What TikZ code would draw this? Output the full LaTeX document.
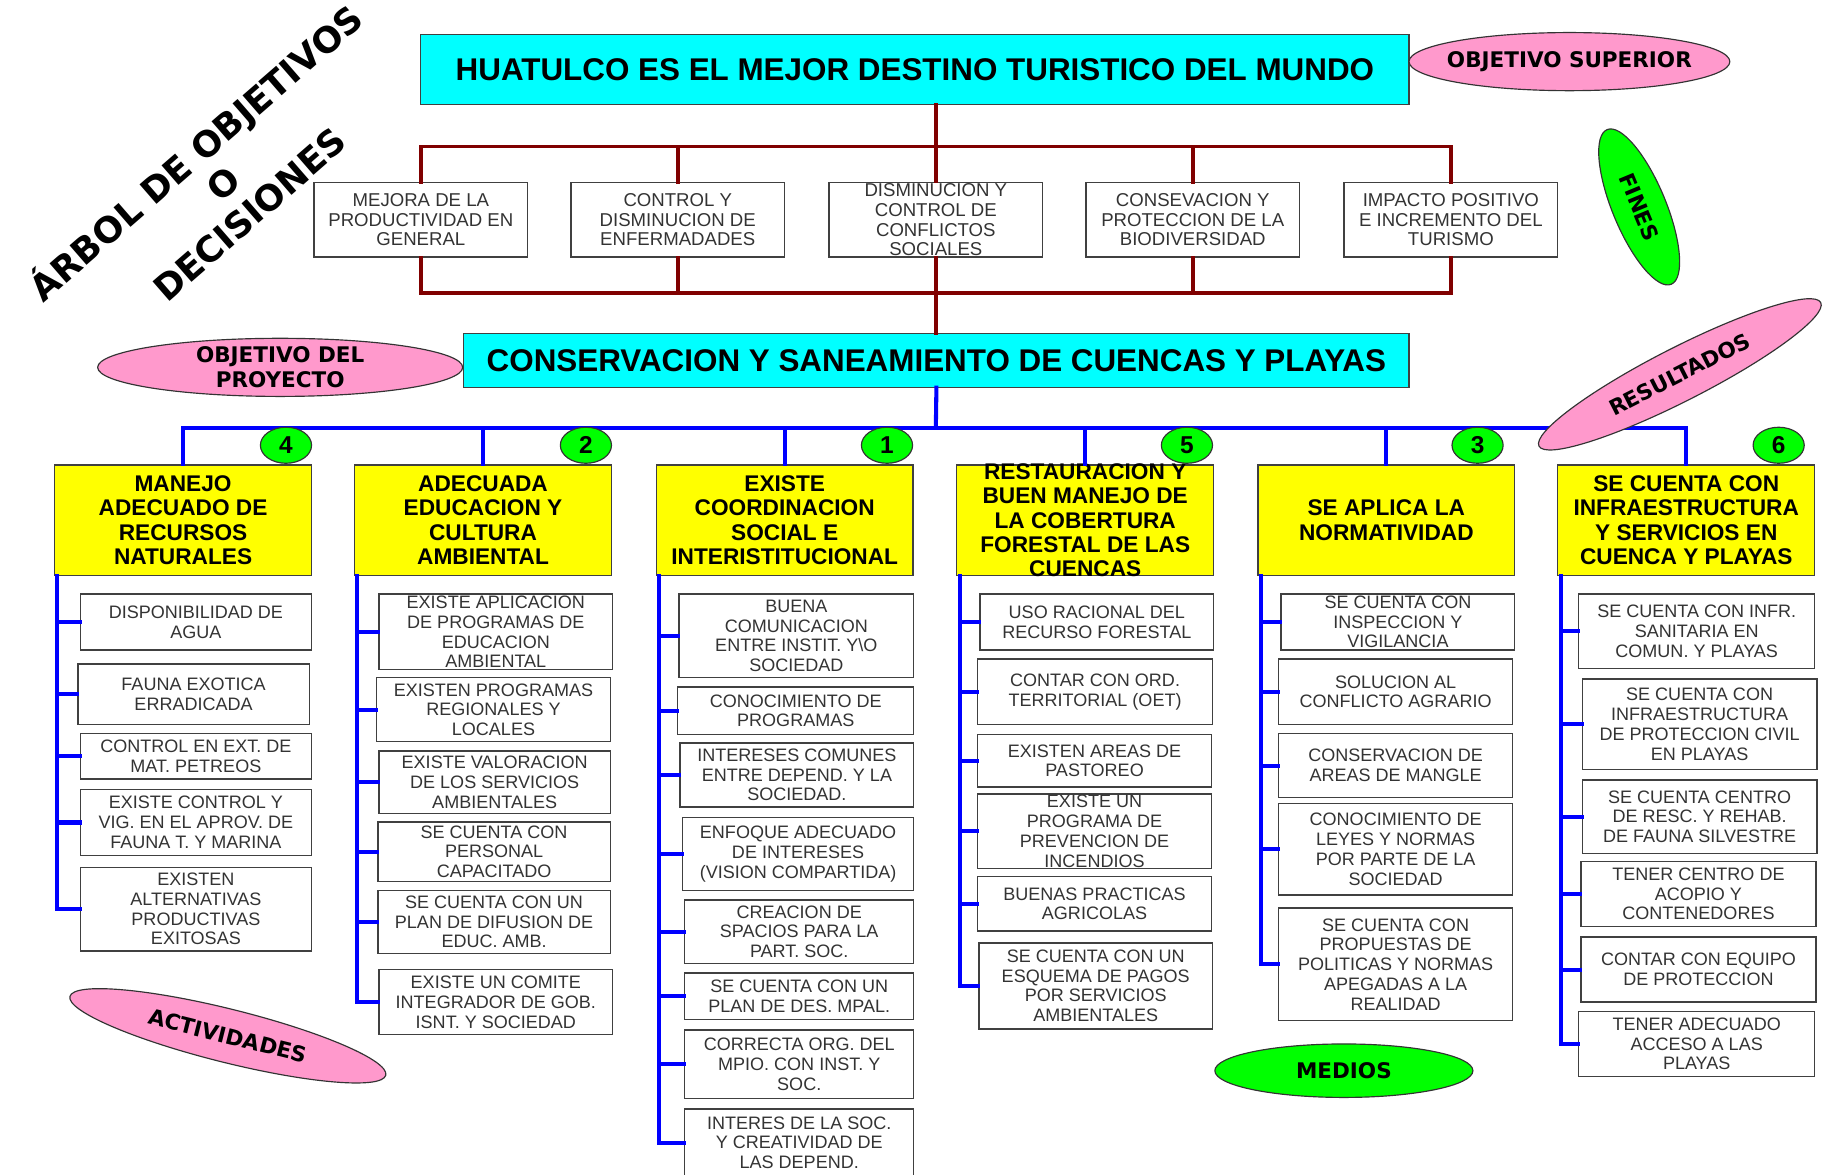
\documentclass[tikz,border=0pt]{standalone}
\usepackage{fontspec}
\setmainfont{Liberation Sans}
\newfontfamily\heavyfont{DejaVu Sans}
\usepackage{tikz}
\usetikzlibrary{positioning,shapes.geometric,calc}

\definecolor{skyfill}{HTML}{00FFFF}
\definecolor{pinkfill}{HTML}{FF99CC}
\definecolor{limefill}{HTML}{00FF00}
\definecolor{lemonfill}{HTML}{FFFF00}
\definecolor{finred}{HTML}{800000}
\definecolor{medblue}{HTML}{0000FF}
\definecolor{boxgray}{HTML}{404040}

\tikzset{
  mainbox/.style={draw=boxgray, line width=1pt, fill=skyfill, inner sep=0pt,
    font=\bfseries\fontsize{27}{30}\selectfont},
  finbox/.style={draw=boxgray, line width=1.2pt, fill=white, align=center,
    minimum width=184, minimum height=64, inner sep=1pt,
    text=black!80, font=\fontsize{16}{17}\selectfont},
  resbox/.style={draw=boxgray, line width=1.2pt, fill=lemonfill, align=center,
    minimum width=221, minimum height=95, inner sep=1pt,
    font=\bfseries\fontsize{19.5}{21}\selectfont},
  actbox/.style={draw=boxgray, line width=1.2pt, fill=white, align=center,
    inner sep=1pt, text=black!80, font=\fontsize{15.5}{17}\selectfont},
  tag/.style={ellipse, draw=black!80, line width=1pt, inner sep=-30pt,
    font=\heavyfont\bfseries\fontsize{18.5}{21}\selectfont},
  numtag/.style={ellipse, draw=black!80, line width=1pt, fill=limefill,
    inner sep=0pt, minimum width=44, minimum height=31,
    font=\bfseries\fontsize{21}{21}\selectfont},
  redline/.style={finred, line width=3pt, line cap=rect},
  blueline/.style={medblue, line width=3.5pt, line cap=rect},
}

\begin{document}
\begin{tikzpicture}[x=1pt,y=-1pt]
  \useasboundingbox (0,0) rectangle (1569,1010);

  % titulo
  \node[rotate=41, align=center,
    font=\heavyfont\bfseries\fontsize{30.5}{35}\selectfont] (title) at (190,156)
    {ÁRBOL DE OBJETIVOS\\O\\DECISIONES};

  % objetivo superior y fines
  \node[mainbox, minimum width=850, minimum height=60] (sup) at (787,60)
    {HUATULCO ES EL MEJOR DESTINO TURISTICO DEL MUNDO};
  \node[finbox] (f1) at (362,189) {MEJORA DE LA\\PRODUCTIVIDAD EN\\GENERAL};
  \node[finbox] (f2) at (583,189) {CONTROL Y\\DISMINUCION DE\\ENFERMADADES};
  \node[finbox] (f3) at (805,189) {DISMINUCION Y\\CONTROL DE\\CONFLICTOS\\SOCIALES};
  \node[finbox] (f4) at (1026,189) {CONSEVACION Y\\PROTECCION DE LA\\BIODIVERSIDAD};
  \node[finbox] (f5) at (1248,189) {IMPACTO POSITIVO\\E INCREMENTO DEL\\TURISMO};
  \node[mainbox, minimum width=813, minimum height=46] (proj) at (805.5,310)
    {CONSERVACION Y SANEAMIENTO DE CUENCAS Y PLAYAS};

  \coordinate (redtop) at (805,126);
  \coordinate (redbot) at (805,252);
  \draw[redline] (f3.north |- sup.south) -- (f3.north);
  \draw[redline] (f3.south) -- (f3.south |- proj.north);
  \draw[redline] (f1.north |- redtop) -- (f5.north |- redtop);
  \draw[redline] (f1.south |- redbot) -- (f5.south |- redbot);
  \foreach \i in {1,...,5} {
    \draw[redline] (f\i.north |- redtop) -- (f\i.north);
    \draw[redline] (f\i.south) -- (f\i.south |- redbot);
  }

  % resultados
  \node[resbox] (r1) at (157.5,447.5) {MANEJO\\ADECUADO DE\\RECURSOS\\NATURALES};
  \node[resbox] (r2) at (415.5,447.5) {ADECUADA\\EDUCACION Y\\CULTURA\\AMBIENTAL};
  \node[resbox] (r3) at (675,447.5) {EXISTE\\COORDINACION\\SOCIAL E\\INTERISTITUCIONAL};
  \node[resbox, inner ysep=-8pt] (r4) at (933.5,447.5)
    {RESTAURACION Y\\BUEN MANEJO DE\\LA COBERTURA\\FORESTAL DE LAS\\CUENCAS};
  \node[resbox] (r5) at (1192.5,447.5) {SE APLICA LA\\NORMATIVIDAD};
  \node[resbox] (r6) at (1450.5,447.5) {SE CUENTA CON\\INFRAESTRUCTURA\\Y SERVICIOS EN\\CUENCA Y PLAYAS};

  \coordinate (bus) at (805,368);
  \draw[blueline] (proj.south) -- (bus);
  \draw[blueline] (r1.north |- bus) -- (r6.north |- bus);
  \foreach \i in {1,...,6}
    \draw[blueline] (r\i.north |- bus) -- (r\i.north);

  \foreach \i/\x/\k in {1/246/4, 2/504/2, 3/763/1, 4/1021/5, 5/1271/3, 6/1530/6}
    \node[numtag] (n\i) at (\x,383) {\k};

  % actividades
  \foreach \n/\x/\y/\w/\h/\t in {
      11/168.5/535/199/48/{DISPONIBILIDAD DE\\AGUA},
      12/166.5/597/199/52/{FAUNA EXOTICA\\ERRADICADA},
      13/168.5/650.5/199/39/{CONTROL EN EXT. DE\\MAT. PETREOS},
      14/168.5/707.5/199/57/{EXISTE CONTROL Y\\VIG. EN EL APROV. DE\\FAUNA T. Y MARINA},
      15/168.5/782/199/72/{EXISTEN\\ALTERNATIVAS\\PRODUCTIVAS\\EXITOSAS},
      21/426.5/543.5/201/65/{EXISTE APLICACION\\DE PROGRAMAS DE\\EDUCACION\\AMBIENTAL},
      22/424.5/610.5/201/55/{EXISTEN PROGRAMAS\\REGIONALES Y\\LOCALES},
      23/425.5/673/199/54/{EXISTE VALORACION\\DE LOS SERVICIOS\\AMBIENTALES},
      24/425/732.5/200/51/{SE CUENTA CON\\PERSONAL\\CAPACITADO},
      25/425/793/200/54/{SE CUENTA CON UN\\PLAN DE DIFUSION DE\\EDUC. AMB.},
      26/426.5/862/201/56/{EXISTE UN COMITE\\INTEGRADOR DE GOB.\\ISNT. Y SOCIEDAD},
      31/685/547/202/72/{BUENA\\COMUNICACION\\ENTRE INSTIT. Y\textbackslash O\\SOCIEDAD},
      32/684.5/611.5/203/41/{CONOCIMIENTO DE\\PROGRAMAS},
      33/685.5/666.5/201/55/{INTERESES COMUNES\\ENTRE DEPEND. Y LA\\SOCIEDAD.},
      34/686.5/734.5/199/63/{ENFOQUE ADECUADO\\DE INTERESES\\(VISION COMPARTIDA)},
      35/687.5/801.5/197/55/{CREACION DE\\SPACIOS PARA LA\\PART. SOC.},
      36/687.5/857/197/40/{SE CUENTA CON UN\\PLAN DE DES. MPAL.},
      37/687.5/915.5/197/59/{CORRECTA ORG. DEL\\MPIO. CON INST. Y\\SOC.},
      38/687.5/983/197/58/{INTERES DE LA SOC.\\Y CREATIVIDAD DE\\LAS DEPEND.},
      41/943.5/535/201/48/{USO RACIONAL DEL\\RECURSO FORESTAL},
      42/942/595/202/56/{CONTAR CON ORD.\\TERRITORIAL (OET)},
      43/941.5/654.5/201/45/{EXISTEN AREAS DE\\PASTOREO},
      44/941.5/715/201/60/{EXISTE UN\\PROGRAMA DE\\PREVENCION DE\\INCENDIOS},
      45/941.5/777.5/201/47/{BUENAS PRACTICAS\\AGRICOLAS},
      46/942.5/848/201/74/{SE CUENTA CON UN\\ESQUEMA DE PAGOS\\POR SERVICIOS\\AMBIENTALES},
      51/1202.5/535/201/48/{SE CUENTA CON\\INSPECCION Y\\VIGILANCIA},
      52/1200.5/595/201/56/{SOLUCION AL\\CONFLICTO AGRARIO},
      53/1200.5/658.5/201/55/{CONSERVACION DE\\AREAS DE MANGLE},
      54/1200.5/730.5/201/79/{CONOCIMIENTO DE\\LEYES Y NORMAS\\POR PARTE DE LA\\SOCIEDAD},
      55/1200.5/829.5/201/97/{SE CUENTA CON\\PROPUESTAS DE\\POLITICAS Y NORMAS\\APEGADAS A LA\\REALIDAD},
      61/1459.5/543/203/64/{SE CUENTA CON INFR.\\SANITARIA EN\\COMUN. Y PLAYAS},
      62/1462/623/202/78/{SE CUENTA CON\\INFRAESTRUCTURA\\DE PROTECCION CIVIL\\EN PLAYAS},
      63/1462/702.5/202/63/{SE CUENTA CENTRO\\DE RESC. Y REHAB.\\DE FAUNA SILVESTRE},
      64/1461/769/202/56/{TENER CENTRO DE\\ACOPIO Y\\CONTENEDORES},
      65/1461/834/202/56/{CONTAR CON EQUIPO\\DE PROTECCION},
      66/1459.5/898/203/56/{TENER ADECUADO\\ACCESO A LAS\\PLAYAS}}
    \node[actbox, minimum width=\w, minimum height=\h] (c\n) at (\x,\y) {\t};

  \foreach \col/\last in {1/5, 2/6, 3/8, 4/6, 5/5, 6/6} {
    \coordinate (v\col) at ([xshift=3pt]r\col.south west);
    \draw[blueline] (v\col) |- (c\col\last.west);
    \foreach \k in {1,...,\last}
      \draw[blueline] (c\col\k.west -| v\col) -- (c\col\k.west);
  }

  % etiquetas
  \node[tag, fill=pinkfill, minimum width=276, minimum height=50] (supT) at (1350,53)
    {OBJETIVO SUPERIOR};
  \node[tag, fill=pinkfill, minimum width=314, minimum height=50, align=center] (projT)
    at (241,316) {OBJETIVO DEL\\PROYECTO};
  \node[tag, fill=limefill, minimum width=144, minimum height=46, rotate=-67.5] (finT)
    at (1410,178) {FINES};
  \node[tag, fill=pinkfill, minimum width=272, minimum height=46, rotate=27] (resT)
    at (1445,322) {RESULTADOS};
  \node[tag, fill=pinkfill, minimum width=280, minimum height=46, rotate=-14] (actT)
    at (196,891) {ACTIVIDADES};
  \node[tag, fill=limefill, minimum width=222, minimum height=46] (medT) at (1156,921)
    {MEDIOS};
\end{tikzpicture}
\end{document}
